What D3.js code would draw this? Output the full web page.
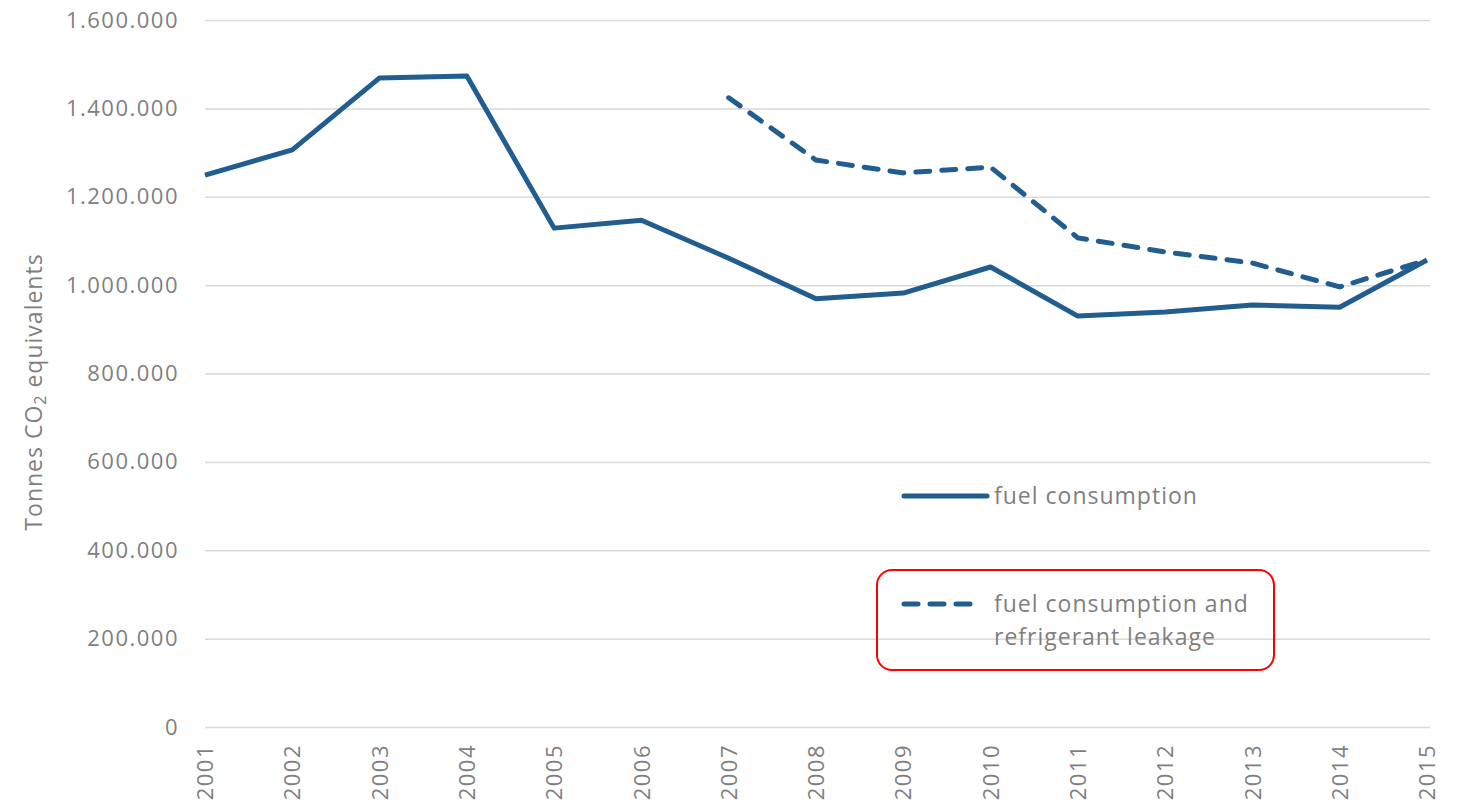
<!DOCTYPE html>
<html>
<head>
<meta charset="utf-8">
<script src="https://cdn.jsdelivr.net/npm/d3@7"></script>
<style>
  body { margin: 0; background: #fff; }
  text { font-family: "Open Sans", "Noto Sans", sans-serif; fill: #7f7f7f; }
</style>
</head>
<body>
<div id="chart"></div>
<script>
// data
var years = [2001, 2002, 2003, 2004, 2005, 2006, 2007, 2008, 2009, 2010, 2011, 2012, 2013, 2014, 2015];
var fuel = [1249000, 1306000, 1469000, 1473000, 1129000, 1147000, 1061000, 969000, 982000, 1041000, 930000, 939000, 955000, 950000, 1057000];
var fuelLeak = [null, null, null, null, null, null, 1424000, 1283000, 1254000, 1267000, 1107000, 1075000, 1050000, 996000, 1057000];
var yTicks = [0, 200000, 400000, 600000, 800000, 1000000, 1200000, 1400000, 1600000];
var legendLabels = ["fuel consumption", "fuel consumption and", "refrigerant leakage"];

var width = 1458, height = 804;
var mLeft = 205, mRight = 1427, mTop = 20, mBottom = 727;
var blue = "#215d8e";

var svg = d3.select("#chart").append("svg")
    .attr("width", width)
    .attr("height", height);

var x = d3.scalePoint().domain(years).range([mLeft, mRight]);
var y = d3.scaleLinear().domain([0, 1600000]).range([mBottom, mTop]);

// formato 1.600.000
var fmt = function (d) { return d3.format(",")(d).replace(/,/g, "."); };

// grid lines + y labels
var yAxis = d3.axisLeft(y).tickValues(yTicks).tickFormat(fmt)
    .tickSize(-(mRight - mLeft + 3)).tickPadding(26);
var gy = svg.append("g").attr("transform", "translate(" + mLeft + ",0)").call(yAxis);
gy.select(".domain").remove();
gy.selectAll("line").attr("stroke", "#d9d9d9").attr("stroke-width", 1.5);
gy.selectAll("text")
    .attr("font-family", null)
    .style("font-size", "22px")
    .style("letter-spacing", "1.5px")
    .attr("fill", "#7f7f7f");

// x labels (rotated)
var xAxis = d3.axisBottom(x).tickSize(0).tickPadding(0);
var gx = svg.append("g").attr("transform", "translate(0," + mBottom + ")").call(xAxis);
gx.select(".domain").remove();
gx.selectAll("text")
    .style("font-size", "22px")
    .style("letter-spacing", "1.5px")
    .attr("fill", "#7f7f7f")
    .attr("text-anchor", "end")
    .attr("transform", "rotate(-90)")
    .attr("x", -17)
    .attr("y", 0)
    .attr("dy", "0.35em");

// y title
svg.append("text")
    .attr("transform", "translate(42,392) rotate(-90)")
    .attr("text-anchor", "middle")
    .style("font-size", "23px")
    .style("letter-spacing", "1px")
    .html('Tonnes CO<tspan font-size="16px" dy="4">2</tspan><tspan dy="-4"> equivalents</tspan>');

var line = d3.line()
    .defined(function (d) { return d.v != null; })
    .x(function (d) { return x(d.year); })
    .y(function (d) { return y(d.v); });

var fuelData = years.map(function (yr, i) { return { year: yr, v: fuel[i] }; });
var leakData = years.map(function (yr, i) { return { year: yr, v: fuelLeak[i] }; });

svg.append("path").datum(leakData)
    .attr("d", line)
    .attr("fill", "none")
    .attr("stroke", blue)
    .attr("stroke-width", 5)
    .attr("stroke-linecap", "round")
    .attr("stroke-dasharray", "14,12");

svg.append("path").datum(fuelData)
    .attr("d", line)
    .attr("fill", "none")
    .attr("stroke", blue)
    .attr("stroke-width", 5)
    .attr("stroke-linejoin", "round");

// legenda
var lg = svg.append("g");
lg.append("line").attr("x1", 904).attr("x2", 987).attr("y1", 496).attr("y2", 496)
    .attr("stroke", blue).attr("stroke-width", 5).attr("stroke-linecap", "round");
lg.append("text").attr("x", 994).attr("y", 496).attr("dy", "0.35em")
    .style("font-size", "23px").style("letter-spacing", "1px").text(legendLabels[0]);

lg.append("line").attr("x1", 904).attr("x2", 980).attr("y1", 604).attr("y2", 604)
    .attr("stroke", blue).attr("stroke-width", 5).attr("stroke-linecap", "round")
    .attr("stroke-dasharray", "14,12");
lg.append("text").attr("x", 994).attr("y", 604).attr("dy", "0.35em")
    .style("font-size", "23px").style("letter-spacing", "1px").text(legendLabels[1]);
lg.append("text").attr("x", 994).attr("y", 637).attr("dy", "0.35em")
    .style("font-size", "23px").style("letter-spacing", "1px").text(legendLabels[2]);

// red highlight box
svg.append("rect")
    .attr("x", 877).attr("y", 570).attr("width", 397).attr("height", 100)
    .attr("rx", 15).attr("ry", 15)
    .attr("fill", "none").attr("stroke", "#ff0000").attr("stroke-width", 2);
</script>
</body>
</html>
